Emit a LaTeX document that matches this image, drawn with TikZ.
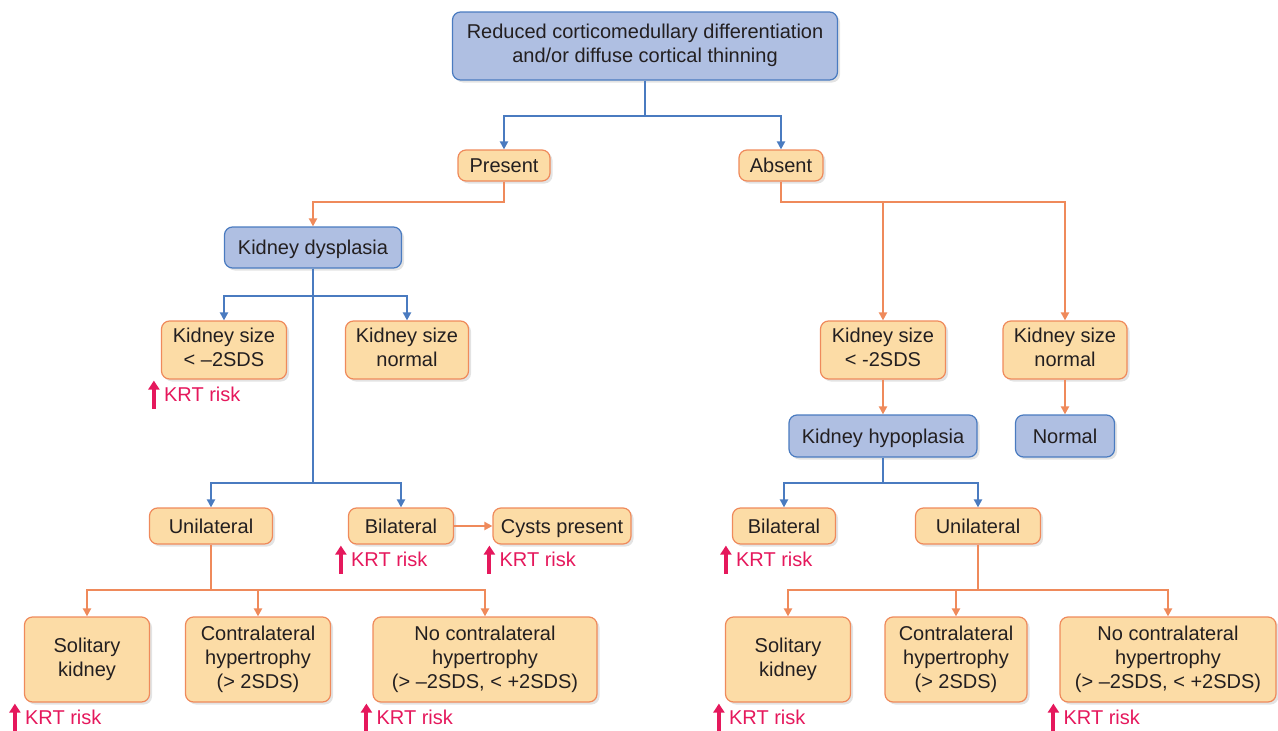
\documentclass[tikz,border=0pt]{standalone}
\usepackage{fontspec}
\setmainfont{Liberation Sans}
\usetikzlibrary{arrows.meta,shadows}
\definecolor{bluefill}{HTML}{AFBFE2}
\definecolor{blueline}{HTML}{4A7BC0}
\definecolor{orangefill}{HTML}{FCDCA6}
\definecolor{orangeline}{HTML}{EF8A5B}
\definecolor{krtpink}{HTML}{E5185C}
\definecolor{textgray}{HTML}{231F20}
\newcommand{\boxstrut}{\rule[-5pt]{0pt}{24pt}}
\begin{document}
\begin{tikzpicture}[x=1pt,y=-1pt,
   box/.style={rectangle, rounded corners=8pt, line width=1.2pt, inner sep=0pt,
      align=center, text=textgray, font=\fontsize{20}{24}\selectfont,
      execute at begin node=\boxstrut, execute at end node=\boxstrut,
      drop shadow={shadow xshift=2.5pt, shadow yshift=-2.5pt, opacity=0.22}},
   bluebox/.style={box, draw=blueline, fill=bluefill},
   orangebox/.style={box, draw=orangeline, fill=orangefill},
   blueflow/.style={draw=blueline, line width=2pt, -{Triangle[width=8pt,length=8pt]}},
   orangeflow/.style={draw=orangeline, line width=2pt, -{Triangle[width=8pt,length=8pt]}},
   krtup/.style={draw=krtpink, line width=4pt, -{Triangle[width=11pt,length=9pt]}},
   krt/.style={text=krtpink, inner sep=0pt, anchor=west, font=\fontsize{20}{24}\selectfont}]
   %% picture in pixel units, y grows downwards
   \useasboundingbox (0,0) rectangle (1278,731);
   
   \node[bluebox, minimum width=385pt, minimum height=68pt] (top) at (645,46)
      {Reduced corticomedullary differentiation\\and/or diffuse cortical thinning};
   \node[orangebox, minimum width=92pt, minimum height=31pt] (present) at (504,165.5) {Present};
   \node[orangebox, minimum width=84pt, minimum height=31pt] (absent) at (781,165.5) {Absent};
   
   %% left branch
   \node[bluebox, minimum width=177pt, minimum height=41pt] (dysplasia) at (313,247.5) {Kidney dysplasia};
   \node[orangebox, minimum width=125pt, minimum height=58pt] (lsizel) at (224,350) {Kidney size\\< –2SDS};
   \node[orangebox, minimum width=123pt, minimum height=58pt] (lsizen) at (407,350) {Kidney size\\normal};
   \node[orangebox, minimum width=123pt, minimum height=36pt] (luni) at (211,526) {Unilateral};
   \node[orangebox, minimum width=105pt, minimum height=36pt] (lbi) at (401,526) {Bilateral};
   \node[orangebox, minimum width=138pt, minimum height=36pt] (cysts) at (562,526) {Cysts present};
   \node[orangebox, minimum width=125pt, minimum height=85pt] (lsol) at (87,659.5) {Solitary\\kidney};
   \node[orangebox, minimum width=145pt, minimum height=85pt] (lcon) at (258,659.5)
      {Contralateral\\hypertrophy\\(> 2SDS)};
   \node[orangebox, minimum width=224pt, minimum height=85pt] (lnocon) at (485,659.5)
      {No contralateral\\hypertrophy\\(> –2SDS, < +2SDS)};
   
   %% right branch
   \node[orangebox, minimum width=125pt, minimum height=58pt] (rsizel) at (883,350) {Kidney size\\< -2SDS};
   \node[orangebox, minimum width=124pt, minimum height=58pt] (rsizen) at (1065,350) {Kidney size\\normal};
   \node[bluebox, minimum width=188pt, minimum height=42pt] (hypo) at (883,436) {Kidney hypoplasia};
   \node[bluebox, minimum width=99pt, minimum height=42pt] (normal) at (1065,436) {Normal};
   \node[orangebox, minimum width=103pt, minimum height=36pt] (rbi) at (784,526) {Bilateral};
   \node[orangebox, minimum width=125pt, minimum height=36pt] (runi) at (978,526) {Unilateral};
   \node[orangebox, minimum width=125pt, minimum height=85pt] (rsol) at (788,659.5) {Solitary\\kidney};
   \node[orangebox, minimum width=142pt, minimum height=85pt] (rcon) at (956,659.5)
      {Contralateral\\hypertrophy\\(> 2SDS)};
   \node[orangebox, minimum width=216pt, minimum height=85pt] (rnocon) at (1168,659.5)
      {No contralateral\\hypertrophy\\(> –2SDS, < +2SDS)};
   
   %% connectors
   \draw[blueflow] (top.south) -- ++(0,35) coordinate (tfork) -| (present.north);
   \draw[blueflow] (tfork) -| (absent.north);
   
   \draw[orangeflow] (present.south) -- ++(0,20) -| (dysplasia.north);
   \draw[orangeflow] (absent.south) -- ++(0,20) coordinate (afork) -| (rsizen.north);
   \draw[orangeflow] (afork -| rsizel.north) -- (rsizel.north);
   
   \draw[blueflow] (dysplasia.south) -- ++(0,27) coordinate (dfork) -| (lsizel.north);
   \draw[blueflow] (dfork) -| (lsizen.north);
   \draw[blueflow] (dysplasia.south) -- ++(0,214) coordinate (dfork2) -| (luni.north);
   \draw[blueflow] (dfork2) -| (lbi.north);
   \draw[orangeflow] (lbi) -- (cysts);
   
   \draw[orangeflow] (luni.south) -- ++(0,45) coordinate (lufork) -| (lsol.north);
   \draw[orangeflow] (lufork) -| (lcon.north);
   \draw[orangeflow] (lufork) -| (lnocon.north);
   
   \draw[orangeflow] (rsizel) -- (hypo);
   \draw[orangeflow] (rsizen) -- (normal);
   \draw[blueflow] (hypo.south) -- ++(0,25) coordinate (hfork) -| (rbi.north);
   \draw[blueflow] (hfork) -| (runi.north);
   
   \draw[orangeflow] (runi.south) -- ++(0,45) coordinate (rufork) -| (rsol.north);
   \draw[orangeflow] (rufork) -| (rcon.north);
   \draw[orangeflow] (rufork) -| (rnocon.north);
   
   %% KRT risk markers
   \foreach \v/\n/\d in
   { lsizel/a/-7,
     lbi/b/-7,
     cysts/c/-3,
     lsol/d/-9,
     lnocon/e/-6,
     rbi/f/-6,
     rsol/g/-6,
     rnocon/h/-6
   }
   {
      \draw[krtup] ([xshift=\d pt, yshift=-29pt]\v.south west) -- ([xshift=\d pt, yshift=-1pt]\v.south west);
      \node[krt] (krt\n) at ([xshift=\d pt+10pt, yshift=-15pt]\v.south west) {KRT risk};
   };
   
\end{tikzpicture}
\end{document}
